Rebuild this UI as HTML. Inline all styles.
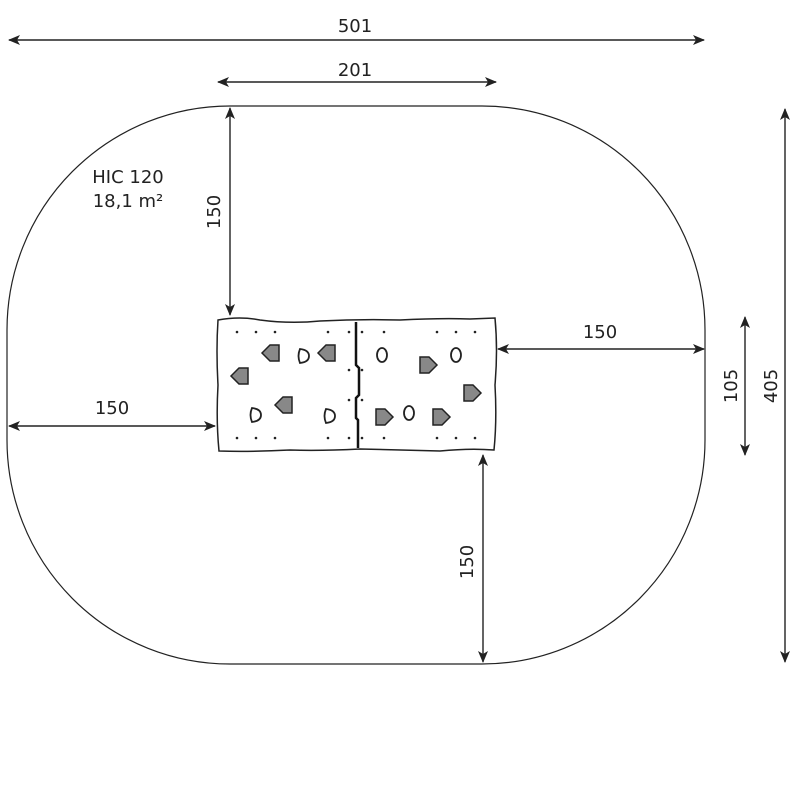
<!DOCTYPE html>
<html><head><meta charset="utf-8"><style>
html,body{margin:0;padding:0;background:#fff;width:800px;height:800px;overflow:hidden}
text{font-family:"DejaVu Sans","Liberation Sans",sans-serif;font-size:18px;fill:#222}
</style></head><body>
<svg width="800" height="800" viewBox="0 0 800 800" xmlns="http://www.w3.org/2000/svg">
<defs>
<marker id="a" viewBox="0 0 12 10" refX="11" refY="5" markerWidth="12" markerHeight="10" markerUnits="userSpaceOnUse" orient="auto-start-reverse">
<path d="M0,0 L12,5 L0,10 L3,5 z" fill="#222"/></marker>
</defs>
<path d="M230 106 H482 A223 224 0 0 1 705 330 V440 A223 224 0 0 1 482 664 H230 A223 224 0 0 1 7 440 V330 A223 224 0 0 1 230 106 Z" fill="none" stroke="#222" stroke-width="1.2"/>
<g stroke="#222" stroke-width="1.4" fill="none">
<line x1="9" y1="40" x2="704" y2="40" marker-start="url(#a)" marker-end="url(#a)"/>
<line x1="218" y1="82" x2="496" y2="82" marker-start="url(#a)" marker-end="url(#a)"/>
<line x1="230" y1="108" x2="230" y2="315" marker-start="url(#a)" marker-end="url(#a)"/>
<line x1="9" y1="426" x2="215" y2="426" marker-start="url(#a)" marker-end="url(#a)"/>
<line x1="498" y1="349" x2="704" y2="349" marker-start="url(#a)" marker-end="url(#a)"/>
<line x1="483" y1="455" x2="483" y2="662" marker-start="url(#a)" marker-end="url(#a)"/>
<line x1="745" y1="317" x2="745" y2="455" marker-start="url(#a)" marker-end="url(#a)"/>
<line x1="785" y1="109" x2="785" y2="662" marker-start="url(#a)" marker-end="url(#a)"/>
</g>
<text x="355" y="32" text-anchor="middle">501</text>
<text x="355" y="76" text-anchor="middle">201</text>
<text x="112" y="414" text-anchor="middle">150</text>
<text x="600" y="338" text-anchor="middle">150</text>
<text transform="translate(220,212) rotate(-90)" text-anchor="middle">150</text>
<text transform="translate(473,562) rotate(-90)" text-anchor="middle">150</text>
<text transform="translate(737,386) rotate(-90)" text-anchor="middle">105</text>
<text transform="translate(777,386) rotate(-90)" text-anchor="middle">405</text>
<text x="128" y="183" text-anchor="middle">HIC 120</text>
<text x="128" y="207" text-anchor="middle">18,1 m²</text>
<path d="M218 320 Q240 316 260 320 Q290 324 320 321 Q360 319 400 320 Q440 318 470 319 L495 318 Q498 350 495 385 Q497 420 494 450 Q470 448 440 451 Q400 450 360 449 Q320 451 290 450 Q250 452 219 451 Q216 420 218 385 Q216 350 218 320 Z" fill="#fff" stroke="#222" stroke-width="1.5"/>
<path d="M356 322 V365 L359 368 V395 L356 398 V418 L358 420 V448" stroke="#111" stroke-width="2.5" fill="none"/>
<g fill="#222">
<circle cx="237" cy="332" r="1.3"/><circle cx="256" cy="332" r="1.3"/><circle cx="275" cy="332" r="1.3"/><circle cx="328" cy="332" r="1.3"/><circle cx="349" cy="332" r="1.3"/><circle cx="362" cy="332" r="1.3"/><circle cx="384" cy="332" r="1.3"/><circle cx="437" cy="332" r="1.3"/><circle cx="456" cy="332" r="1.3"/><circle cx="475" cy="332" r="1.3"/>
<circle cx="237" cy="438" r="1.3"/><circle cx="256" cy="438" r="1.3"/><circle cx="275" cy="438" r="1.3"/><circle cx="328" cy="438" r="1.3"/><circle cx="349" cy="438" r="1.3"/><circle cx="362" cy="438" r="1.3"/><circle cx="384" cy="438" r="1.3"/><circle cx="437" cy="438" r="1.3"/><circle cx="456" cy="438" r="1.3"/><circle cx="475" cy="438" r="1.3"/>
<circle cx="349" cy="370" r="1.3"/><circle cx="362" cy="370" r="1.3"/><circle cx="349" cy="400" r="1.3"/><circle cx="362" cy="400" r="1.3"/>
</g>
<g stroke="#222" stroke-width="1.5" fill="#888">
<path d="M262 353 L270 345 H279 V361 H270 Z"/><path d="M318 353 L326 345 H335 V361 H326 Z"/><path d="M231 376 L239 368 H248 V384 H239 Z"/><path d="M275 405 L283 397 H292 V413 H283 Z"/>
<path d="M437 365 L429 357 H420 V373 H429 Z"/><path d="M481 393 L473 385 H464 V401 H473 Z"/><path d="M393 417 L385 409 H376 V425 H385 Z"/><path d="M450 417 L442 409 H433 V425 H442 Z"/>
</g>
<g stroke="#222" stroke-width="1.8" fill="#fff">
<path d="M300 349 Q309 350 309 356 Q309 362 300 363 Q297 356 300 349 Z"/>
<path d="M252 408 Q261 409 261 415 Q261 421 252 422 Q249 415 252 408 Z"/>
<path d="M326 409 Q335 410 335 416 Q335 422 326 423 Q323 416 326 409 Z"/>
<ellipse cx="382" cy="355" rx="5" ry="7"/><ellipse cx="456" cy="355" rx="5" ry="7"/><ellipse cx="409" cy="413" rx="5" ry="7"/>
</g>
</svg>
</body></html>
